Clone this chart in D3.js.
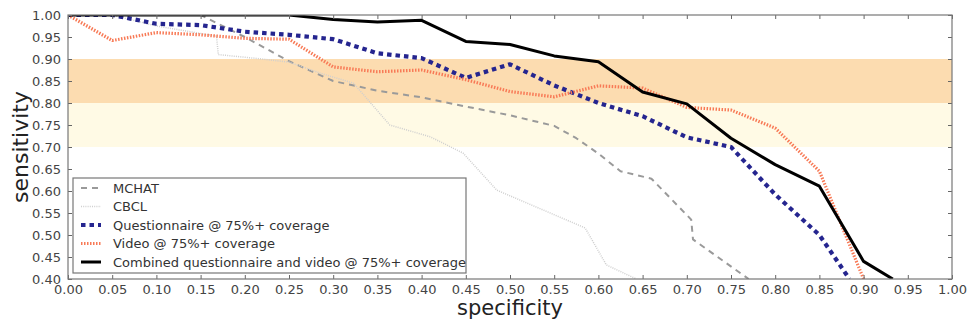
<!DOCTYPE html>
<html>
<head>
<meta charset="utf-8">
<script src="https://cdn.jsdelivr.net/npm/d3@7"></script>
<style>
  body { margin: 0; background: #fff; }
  svg { display: block; font-family: "DejaVu Sans", sans-serif; }
</style>
</head>
<body>
<div id="chart"></div>
<script>
// chart size and plot margins
const F_WIDTH = 968;
const F_HEIGHT = 325;
const MARGINS = {left: 68, right: 16, top: 15, bottom: 46};
const VIS_WIDTH = F_WIDTH - MARGINS.left - MARGINS.right;
const VIS_HEIGHT = F_HEIGHT - MARGINS.top - MARGINS.bottom;

// data: [specificity, sensitivity]
const mchat = [[0, 1], [0.05, 1], [0.10, 1], [0.15, 1], [0.20, 0.95], [0.25, 0.895], [0.30, 0.85],
  [0.35, 0.828], [0.40, 0.813], [0.45, 0.792], [0.50, 0.772], [0.55, 0.748], [0.575, 0.72],
  [0.60, 0.685], [0.625, 0.645], [0.66, 0.628], [0.705, 0.535], [0.707, 0.49], [0.77, 0.40]];
const cbcl = [[0, 1], [0.05, 1], [0.10, 0.975], [0.168, 0.952], [0.17, 0.91], [0.21, 0.902],
  [0.25, 0.893], [0.285, 0.868], [0.323, 0.845], [0.364, 0.75], [0.41, 0.723], [0.447, 0.686],
  [0.485, 0.602], [0.585, 0.516], [0.609, 0.432], [0.643, 0.40]];
const questionnaire = [[0, 1], [0.05, 1], [0.10, 0.98], [0.15, 0.977], [0.20, 0.962], [0.25, 0.955],
  [0.30, 0.945], [0.35, 0.913], [0.40, 0.902], [0.45, 0.857], [0.50, 0.888], [0.55, 0.84],
  [0.60, 0.80], [0.65, 0.77], [0.70, 0.722], [0.75, 0.70], [0.80, 0.592], [0.85, 0.50], [0.884, 0.40]];
const video = [[0, 1], [0.05, 0.942], [0.10, 0.96], [0.15, 0.955], [0.20, 0.947], [0.25, 0.945],
  [0.30, 0.882], [0.35, 0.871], [0.40, 0.875], [0.45, 0.853], [0.50, 0.826], [0.55, 0.814],
  [0.60, 0.839], [0.65, 0.834], [0.70, 0.79], [0.75, 0.784], [0.80, 0.743], [0.85, 0.645], [0.90, 0.40]];
const combined = [[0, 1], [0.05, 1], [0.10, 1], [0.15, 1], [0.20, 1], [0.25, 1], [0.30, 0.99],
  [0.35, 0.984], [0.40, 0.988], [0.45, 0.94], [0.50, 0.933], [0.55, 0.907], [0.60, 0.894],
  [0.65, 0.825], [0.70, 0.798], [0.75, 0.72], [0.80, 0.66], [0.85, 0.611], [0.90, 0.44], [0.933, 0.40]];

const labels = ["MCHAT", "CBCL", "Questionnaire @ 75%+ coverage", "Video @ 75%+ coverage",
  "Combined questionnaire and video @ 75%+ coverage"];
const bands = [[0.80, 0.90, "#fcdcb0"], [0.70, 0.80, "#fffae5"]];
const xTicks = d3.range(0, 21).map(d => d * 0.05);
const yTicks = d3.range(8, 21).map(d => d * 0.05);

// line styles
const styles = [
  {color: "#9a9a9a", width: 2, dash: "6,5"},
  {color: "#cfcfcf", width: 1.5, dash: "1,1.2"},
  {color: "#25258f", width: 4.2, dash: "4.5,4"},
  {color: "#f87a56", width: 3.2, dash: "1.5,1.5"},
  {color: "#000000", width: 3, dash: null}
];
const series = [mchat, cbcl, questionnaire, video, combined];

const svg = d3.select("#chart").append("svg")
  .attr("width", F_WIDTH).attr("height", F_HEIGHT);

const X_SCALE = d3.scaleLinear().domain([0, 1]).range([0, VIS_WIDTH]);
const Y_SCALE = d3.scaleLinear().domain([0.4, 1]).range([VIS_HEIGHT, 0]);

const g = svg.append("g").attr("transform", `translate(${MARGINS.left},${MARGINS.top})`);

g.append("defs").append("clipPath").attr("id", "clip")
  .append("rect").attr("width", VIS_WIDTH).attr("height", VIS_HEIGHT);

// shaded bands
g.selectAll(".band").data(bands).join("rect")
  .attr("x", 0).attr("width", VIS_WIDTH)
  .attr("y", d => Y_SCALE(d[1]))
  .attr("height", d => Y_SCALE(d[0]) - Y_SCALE(d[1]))
  .attr("fill", d => d[2]);

// lines
const line = d3.line().x(d => X_SCALE(d[0])).y(d => Y_SCALE(d[1]));
const lines = g.append("g").attr("clip-path", "url(#clip)");
series.forEach((s, i) => {
  lines.append("path").datum(s)
    .attr("d", line)
    .attr("fill", "none")
    .attr("stroke", styles[i].color)
    .attr("stroke-width", styles[i].width)
    .attr("stroke-dasharray", styles[i].dash)
    .attr("stroke-linejoin", "round");
});

// axes, ticks pointing inward on all sides
const fmt = d3.format(".2f");
const styleAxis = sel => {
  sel.select(".domain").remove();
  sel.selectAll("line").attr("stroke", "#666");
  sel.selectAll("text").attr("fill", "#444").attr("font-size", 13).attr("font-family", "DejaVu Sans");
};
g.append("g").attr("transform", `translate(0,${VIS_HEIGHT})`)
  .call(d3.axisBottom(X_SCALE).tickValues(xTicks).tickFormat(fmt).tickSizeInner(-4).tickPadding(6))
  .call(styleAxis);
g.append("g")
  .call(d3.axisLeft(Y_SCALE).tickValues(yTicks).tickFormat(fmt).tickSizeInner(-4).tickPadding(7))
  .call(styleAxis);
g.append("g")
  .call(d3.axisTop(X_SCALE).tickValues(xTicks).tickFormat("").tickSizeInner(-4))
  .call(styleAxis);
g.append("g").attr("transform", `translate(${VIS_WIDTH},0)`)
  .call(d3.axisRight(Y_SCALE).tickValues(yTicks).tickFormat("").tickSizeInner(-4))
  .call(styleAxis);

g.append("rect").attr("width", VIS_WIDTH).attr("height", VIS_HEIGHT)
  .attr("fill", "none").attr("stroke", "#777").attr("stroke-width", 1.2);

// axis titles
svg.append("text")
  .attr("x", MARGINS.left + VIS_WIDTH / 2).attr("y", 315)
  .attr("text-anchor", "middle").attr("font-size", 21).attr("fill", "#222")
  .text("specificity");
svg.append("text")
  .attr("transform", `translate(28,${MARGINS.top + VIS_HEIGHT / 2}) rotate(-90)`)
  .attr("text-anchor", "middle").attr("font-size", 22).attr("fill", "#222")
  .text("sensitivity");

// legend
const legend = svg.append("g").attr("transform", "translate(73,178)");
legend.append("rect").attr("width", 393).attr("height", 95)
  .attr("fill", "#fff").attr("stroke", "#777").attr("stroke-width", 1.2);
labels.forEach((lab, i) => {
  const y = 10 + i * 18.5;
  legend.append("line")
    .attr("x1", 8).attr("x2", 28).attr("y1", y).attr("y2", y)
    .attr("stroke", styles[i].color)
    .attr("stroke-width", styles[i].width)
    .attr("stroke-dasharray", styles[i].dash);
  legend.append("text")
    .attr("x", 40).attr("y", y).attr("dy", "0.35em")
    .attr("font-size", 13).attr("fill", "#333")
    .text(lab);
});
</script>
</body>
</html>
